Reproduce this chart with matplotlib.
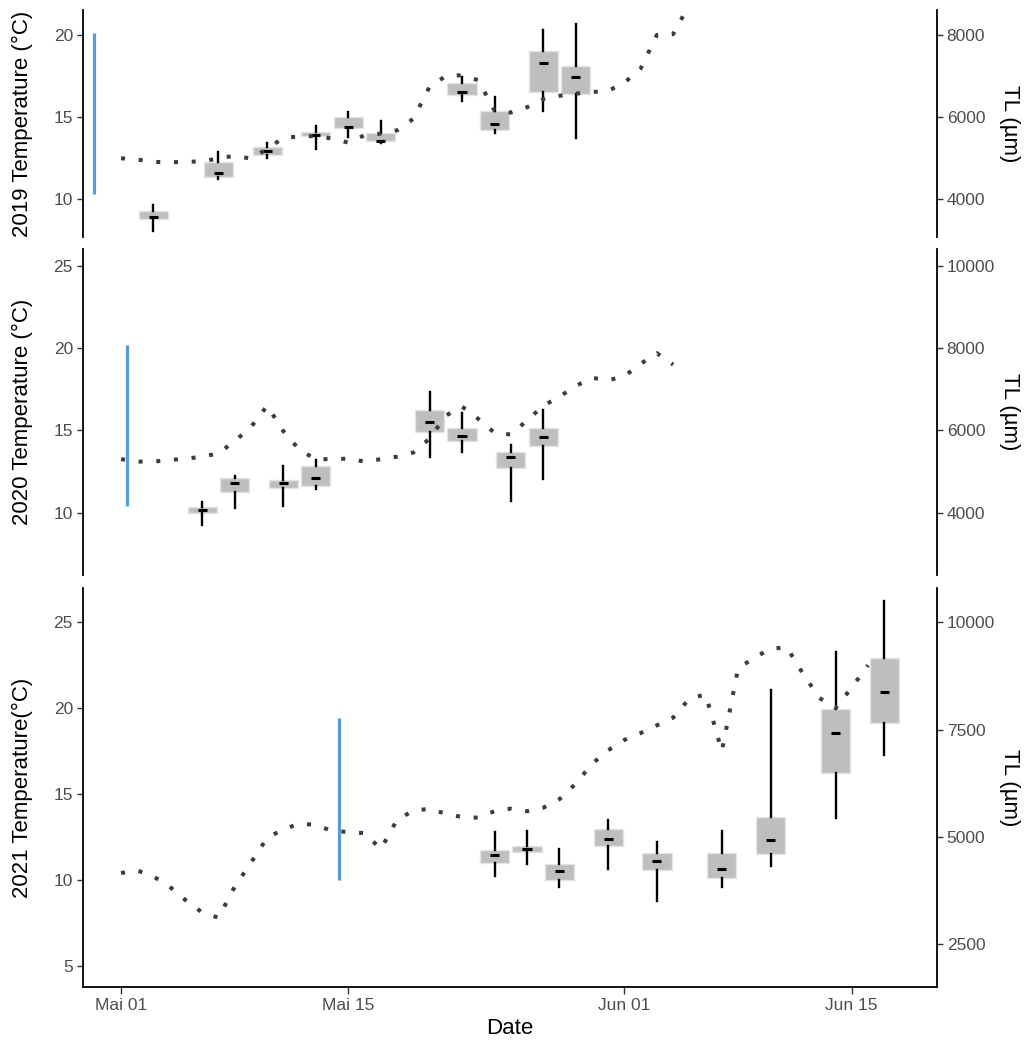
import numpy as np
import pandas as pd
import matplotlib
matplotlib.use("Agg")
import matplotlib.pyplot as plt

plt.rcParams['font.family'] = ['Liberation Sans', 'DejaVu Sans']

TL_FACTOR = 400  # TL (µm) = 400 * temperature on the secondary axis

# ---------------- 2019 ----------------
temp_2019 = [12.50, 12.42, 12.28, 12.25, 12.29, 12.30, 12.50, 12.65, 12.48, 13.06,
             13.75, 13.82, 13.85, 13.70, 13.45, 13.90, 14.00, 14.20, 14.90, 16.85,
             17.50, 17.55, 17.25, 15.40, 15.28, 15.60, 16.10, 16.30, 16.43, 16.53,
             16.60, 17.10, 17.95, 20.00, 20.05, 21.85]
box_dates_2019 = ["05-03", "05-07", "05-10", "05-13", "05-15", "05-17", "05-22", "05-24", "05-27", "05-29"]
tl_min_2019 = [3240, 4488, 5000, 5220, 5524, 5380, 6396, 5608, 6160, 5488]
tl_q1_2019 = [3524, 4544, 5080, 5544, 5728, 5412, 6540, 5688, 6604, 6556]
tl_med_2019 = [3572, 4636, 5184, 5568, 5756, 5420, 6604, 5828, 7328, 6972]
tl_q3_2019 = [3724, 4908, 5276, 5640, 5996, 5624, 6824, 6144, 7612, 7244]
tl_max_2019 = [3872, 5144, 5380, 5780, 6120, 5916, 6980, 6484, 8116, 8260]
blue_2019 = ["2019-04-29 08:00", 10.3, 20.1]

# ---------------- 2020 ----------------
temp_2020 = [13.25, 13.10, 13.10, 13.20, 13.28, 13.40, 13.60, 14.35, 15.20, 16.50,
             14.95, 13.80, 13.25, 13.25, 13.28, 13.10, 13.25, 13.40, 13.65, 14.50,
             15.90, 16.45, 15.70, 14.85, 14.75, 15.60, 16.50, 17.05, 17.70, 18.20,
             18.05, 18.30, 19.05, 19.70, 19.00]
box_dates_2020 = ["05-06", "05-08", "05-11", "05-13", "05-20", "05-22", "05-25", "05-27"]
tl_min_2020 = [3700, 4120, 4168, 4576, 5344, 5468, 4288, 4812]
tl_q1_2020 = [3996, 4508, 4592, 4656, 5968, 5744, 5092, 5620]
tl_med_2020 = [4064, 4712, 4712, 4840, 6196, 5864, 5344, 5832]
tl_q3_2020 = [4136, 4836, 4800, 5140, 6496, 6052, 5480, 6064]
tl_max_2020 = [4252, 4884, 5140, 5280, 6940, 6416, 5644, 6496]
blue_2020 = ["2020-05-01 09:00", 10.4, 20.2]

# ---------------- 2021 ----------------
temp_2021 = [10.40, 10.55, 10.20, 9.60, 8.80, 8.10, 7.80, 9.60, 11.00, 12.45,
             12.95, 13.28, 13.20, 12.85, 12.79, 12.72, 11.80, 13.50, 14.03, 14.14,
             13.85, 13.66, 13.62, 14.00, 14.15, 14.00, 14.20, 14.70, 15.60, 16.75,
             17.55, 18.15, 18.55, 19.00, 19.45, 20.55, 20.80, 17.50, 22.30, 22.95,
             23.45, 23.55, 22.00, 20.60, 20.00, 21.20, 22.50]
box_dates_2021 = ["05-24", "05-26", "05-28", "05-31", "06-03", "06-07", "06-10", "06-14", "06-17"]
tl_min_2021 = [4088, 4368, 3828, 4244, 3516, 3828, 4328, 5432, 6908]
tl_q1_2021 = [4400, 4656, 3988, 4780, 4228, 4052, 4596, 6484, 7648]
tl_med_2021 = [4572, 4712, 4200, 4952, 4440, 4260, 4920, 7416, 8368]
tl_q3_2021 = [4696, 4796, 4364, 5176, 4620, 4632, 5472, 7972, 9160]
tl_max_2021 = [5116, 5144, 4712, 5396, 4888, 5144, 8424, 9316, 10504]
blue_2021 = ["2021-05-14 09:30", 10.0, 19.4]

# axis settings
temp_labels = ["2019 Temperature (°C)", "2020 Temperature (°C)", "2021 Temperature(°C)"]
temp_ticks = [[10, 15, 20], [10, 15, 20, 25], [5, 10, 15, 20, 25]]
tl_ticks = [[4000, 6000, 8000], [4000, 6000, 8000, 10000], [2500, 5000, 7500, 10000]]
ylims = [(7.69, 21.52), (6.2, 26.02), (3.78, 26.98)]
x_tick_dates = ["05-01", "05-15", "06-01", "06-15"]
x_tick_labels = ["Mai 01", "Mai 15", "Jun 01", "Jun 15"]

years = [2019, 2020, 2021]
temps = [temp_2019, temp_2020, temp_2021]
box_dates = [box_dates_2019, box_dates_2020, box_dates_2021]
tl_min = [tl_min_2019, tl_min_2020, tl_min_2021]
tl_q1 = [tl_q1_2019, tl_q1_2020, tl_q1_2021]
tl_med = [tl_med_2019, tl_med_2020, tl_med_2021]
tl_q3 = [tl_q3_2019, tl_q3_2020, tl_q3_2021]
tl_max = [tl_max_2019, tl_max_2020, tl_max_2021]
blues = [blue_2019, blue_2020, blue_2021]


def day_offset(year, stamp):
    """days since May 1 of the given year"""
    t = pd.Timestamp(f"{year}-{stamp}") if len(stamp) <= 5 else pd.Timestamp(stamp)
    return (t - pd.Timestamp(f"{year}-05-01")) / pd.Timedelta(days=1)


fig = plt.figure(figsize=(10.26, 10.41), dpi=100)
W, H = 1026.0, 1041.0
x0, x1 = 82.7, 937.0
panels_px = [(10.0, 237.3), (249.3, 575.0), (588.3, 986.7)]
xlim = (-2.36, 50.25)

TXT = '#4D4D4D'
for i, (top, bot) in enumerate(panels_px):
    ax = fig.add_axes([x0 / W, 1 - bot / H, (x1 - x0) / W, (bot - top) / H])
    year = years[i]

    # boxplots (TL converted to temperature scale)
    pos = [day_offset(year, d) for d in box_dates[i]]
    stats = []
    for k in range(len(pos)):
        stats.append(dict(whislo=tl_min[i][k] / TL_FACTOR, q1=tl_q1[i][k] / TL_FACTOR,
                          med=tl_med[i][k] / TL_FACTOR, q3=tl_q3[i][k] / TL_FACTOR,
                          whishi=tl_max[i][k] / TL_FACTOR, fliers=[]))
    ax.bxp(stats, positions=pos, widths=1.8, patch_artist=True, showcaps=False,
           showfliers=False, manage_ticks=False,
           boxprops=dict(facecolor='#BEBEBE', edgecolor='#E4E4E4', linewidth=1.0),
           whiskerprops=dict(color='black', linewidth=1.7),
           medianprops=dict(visible=False))
    meds = [m / TL_FACTOR for m in tl_med[i]]
    ax.hlines(meds, [p - 0.28 for p in pos], [p + 0.28 for p in pos],
              colors='black', linewidth=2.2, zorder=4)

    # temperature line
    days = np.arange(len(temps[i]))
    ax.plot(days, temps[i], color='#3C3C3C', linewidth=2.9,
            linestyle=(0, (1, 3.4)), zorder=5, solid_capstyle='butt',
            dash_capstyle='butt')

    # blue segment
    bx = day_offset(year, blues[i][0])
    ax.vlines([bx], blues[i][1], blues[i][2], colors='#5B9BD5', linewidth=2.3, zorder=3)

    ax.set_xlim(*xlim)
    ax.set_ylim(*ylims[i])
    ax.set_yticks(temp_ticks[i])
    ax.tick_params(axis='y', direction='out', length=4, width=1.0, color='#333333',
                   labelsize=12.5, labelcolor=TXT, pad=3)
    ax.spines['top'].set_visible(False)
    ax.spines['right'].set_visible(False)
    ax.spines['left'].set_linewidth(1.3)
    ax.set_ylabel(temp_labels[i], fontsize=16, color='black')
    ax.yaxis.set_label_coords(-0.058, 0.5)

    # secondary TL axis
    ax2 = ax.twinx()
    ax2.set_ylim(ylims[i][0] * TL_FACTOR, ylims[i][1] * TL_FACTOR)
    ax2.set_yticks(tl_ticks[i])
    ax2.tick_params(axis='y', direction='out', length=4, width=1.0, color='#333333',
                    labelsize=12.5, labelcolor=TXT, pad=3)
    for s in ['top', 'left', 'bottom']:
        ax2.spines[s].set_visible(False)
    ax2.spines['right'].set_linewidth(1.3)
    ax2.set_ylabel('TL (µm)', fontsize=16, rotation=270, color='black')
    ax2.yaxis.label.set_verticalalignment('bottom')
    ax2.yaxis.set_label_coords(1.072, 0.5)

    if i < 2:
        ax.spines['bottom'].set_visible(False)
        ax.set_xticks([])
    else:
        ax.spines['bottom'].set_linewidth(1.3)
        ax.set_xticks([day_offset(year, d) for d in x_tick_dates])
        ax.set_xticklabels(x_tick_labels)
        ax.tick_params(axis='x', direction='out', length=5, width=1.0, color='#333333',
                       labelsize=12.5, labelcolor=TXT, pad=3)
        ax.set_xlabel('Date', fontsize=16, color='black', labelpad=4)

fig.savefig('out.png', dpi=100)
